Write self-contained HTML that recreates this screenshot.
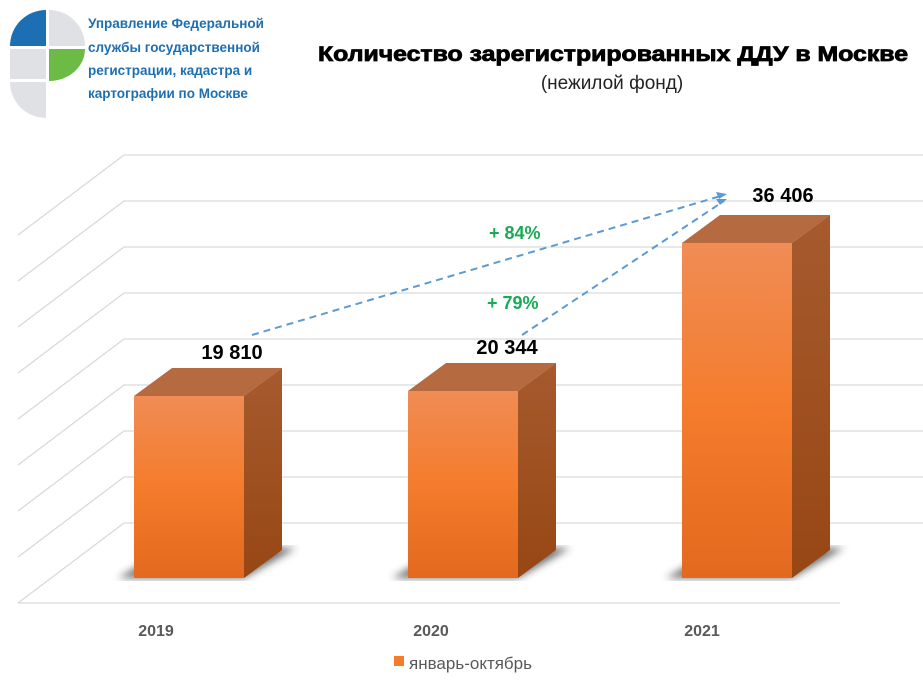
<!DOCTYPE html>
<html><head><meta charset="utf-8"><style>
body{margin:0;background:#fff;}
svg{display:block;font-family:"Liberation Sans","DejaVu Sans",sans-serif;}
</style></head><body>
<svg width="923" height="690" viewBox="0 0 923 690" xmlns="http://www.w3.org/2000/svg">
<defs>
<linearGradient id="fr" x1="0" y1="0" x2="0" y2="1"><stop offset="0" stop-color="#f08c55"/><stop offset="0.5" stop-color="#f47c2c"/><stop offset="1" stop-color="#e2691e"/></linearGradient>
<linearGradient id="sd" x1="0" y1="0" x2="0" y2="1"><stop offset="0" stop-color="#a65a2e"/><stop offset="1" stop-color="#974714"/></linearGradient>
<filter id="bl"><feGaussianBlur stdDeviation="4"/></filter>
</defs>
<!-- logo -->
<path d="M46,10 A36,36 0 0 0 10,46 L46,46 Z" fill="#1c6fb3"/>
<path d="M49,10 A36,36 0 0 1 85,46 L49,46 Z" fill="#dfe1e4"/>
<rect x="10" y="49" width="36" height="30" fill="#dfe1e4"/>
<path d="M49,49 L85,49 A36,32 0 0 1 49,81 Z" fill="#6cbb45"/>
<path d="M10,82 L46,82 L46,118 A36,36 0 0 1 10,82 Z" fill="#dfe1e4"/>
<g fill="#1c6fb3" font-weight="bold" font-size="13.5">
<text x="88" y="28">Управление Федеральной</text>
<text x="88" y="52">службы государственной</text>
<text x="88" y="75">регистрации, кадастра и</text>
<text x="88" y="98">картографии по Москве</text>
</g>
<text x="613" y="61" text-anchor="middle" font-weight="bold" font-size="21" fill="#000" stroke="#000" stroke-width="0.8" textLength="590" lengthAdjust="spacingAndGlyphs">Количество зарегистрированных ДДУ в Москве</text>
<text x="612" y="89" text-anchor="middle" font-size="19" fill="#222">(нежилой фонд)</text>
<!-- grid -->
<g stroke="#d9d9d9" stroke-width="1.3" fill="none">
<path d="M18,235 L124,155 H923"/><path d="M18,281 L124,201 H923"/><path d="M18,327 L124,247 H923"/>
<path d="M18,373 L124,293 H923"/><path d="M18,419 L124,339 H923"/><path d="M18,465 L124,385 H923"/>
<path d="M18,511 L124,431 H923"/><path d="M18,557 L124,477 H923"/><path d="M18,603 L124,523 H923"/>
<path d="M18,603 H840"/>
</g>
<!-- bars -->
<g>
<path d="M118,578 L244,578 L296,548 L170,548 Z" fill="#333" opacity="0.7" filter="url(#bl)"/>
<path d="M134,396 L172,368 L282,368 L244,396 Z" fill="#b56a40"/>
<path d="M244,396 L282,368 L282,550 L244,578 Z" fill="url(#sd)"/>
<rect x="134" y="396" width="110" height="182" fill="url(#fr)"/>

<path d="M392,578 L518,578 L570,548 L444,548 Z" fill="#333" opacity="0.7" filter="url(#bl)"/>
<path d="M408,391 L446,363 L556,363 L518,391 Z" fill="#b56a40"/>
<path d="M518,391 L556,363 L556,550 L518,578 Z" fill="url(#sd)"/>
<rect x="408" y="391" width="110" height="187" fill="url(#fr)"/>

<path d="M666,578 L792,578 L844,548 L718,548 Z" fill="#333" opacity="0.7" filter="url(#bl)"/>
<path d="M682,243 L720,215 L830,215 L792,243 Z" fill="#b56a40"/>
<path d="M792,243 L830,215 L830,550 L792,578 Z" fill="url(#sd)"/>
<rect x="682" y="243" width="110" height="335" fill="url(#fr)"/>
</g>
<!-- arrows -->
<g stroke="#5b9bd5" stroke-width="2" stroke-dasharray="7,5" fill="none">
<path d="M252,335 L724,195"/><path d="M522,335 L724,201"/>
</g>
<path d="M727,194 L716,192 L719,199 Z" fill="#5b9bd5"/>
<path d="M727,199 L716,199 L720,205 Z" fill="#5b9bd5"/>
<g font-weight="bold" font-size="20" fill="#000" text-anchor="middle">
<text x="232" y="359">19 810</text>
<text x="507" y="354">20 344</text>
<text x="783" y="202">36 406</text>
</g>
<g font-weight="bold" font-size="18" fill="#1aaa55">
<text x="489" y="239">+ 84%</text>
<text x="487" y="309">+ 79%</text>
</g>
<g font-weight="bold" font-size="16" fill="#595959" text-anchor="middle">
<text x="156" y="636">2019</text><text x="431" y="636">2020</text><text x="702" y="636">2021</text>
</g>
<rect x="394" y="656" width="10" height="10" fill="#f47c2c"/>
<text x="409" y="669" font-size="17" fill="#595959">январь-октябрь</text>
</svg>
</body></html>
